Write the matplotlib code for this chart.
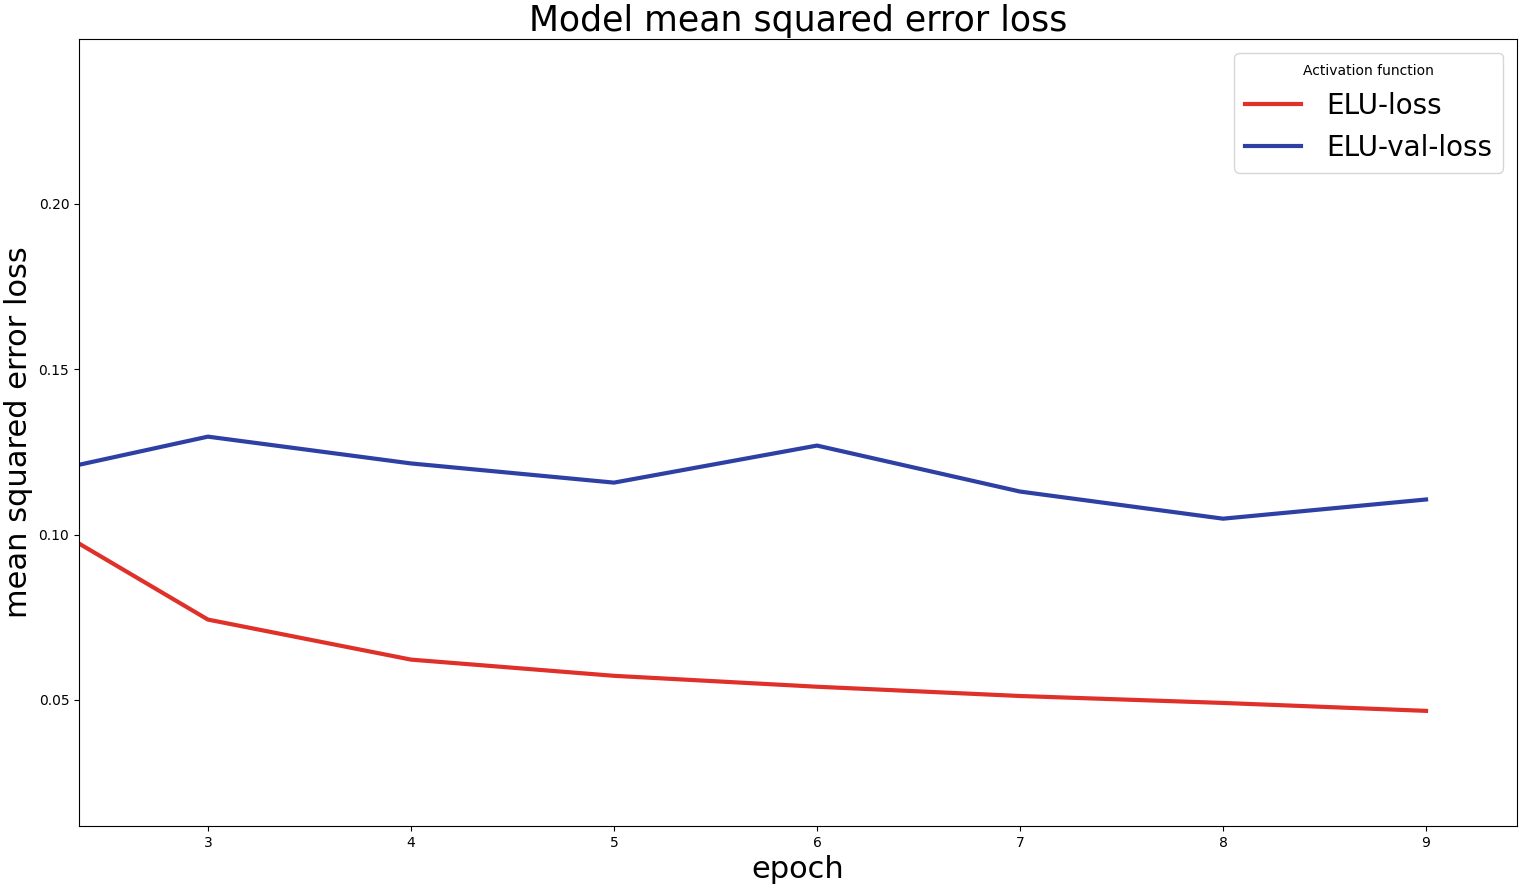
import matplotlib.pyplot as plt

# epochs and loss values
epochs = [2, 3, 4, 5, 6, 7, 8, 9]
elu_loss = [0.1105, 0.0743, 0.0622, 0.0573, 0.0540, 0.0512, 0.0491, 0.0467]
elu_val_loss = [0.1162, 0.1296, 0.1215, 0.1157, 0.1269, 0.1130, 0.1048, 0.1106]

fig = plt.figure(figsize=(15.23, 8.88), dpi=100)
ax = fig.add_axes([79 / 1523, 62 / 888, (1517 - 79) / 1523, (826 - 39) / 888])

ax.plot(epochs, elu_loss, color='#e0302a', linewidth=3, label='ELU-loss')
ax.plot(epochs, elu_val_loss, color='#2e40a4', linewidth=3, label='ELU-val-loss')

ax.set_xlim(2.365, 9.448)
ax.set_ylim(0.0119, 0.2498)
ax.set_yticks([0.05, 0.10, 0.15, 0.20])
ax.set_yticklabels(['0.05', '0.10', '0.15', '0.20'])

ax.set_title('Model mean squared error loss', fontsize=25)
ax.set_xlabel('epoch', fontsize=22)
ax.set_ylabel('mean squared error loss', fontsize=22)

ax.legend(title='Activation function', fontsize=20, title_fontsize=10,
          loc='upper right', handletextpad=0.9)

fig.savefig('out.png', dpi=100)
